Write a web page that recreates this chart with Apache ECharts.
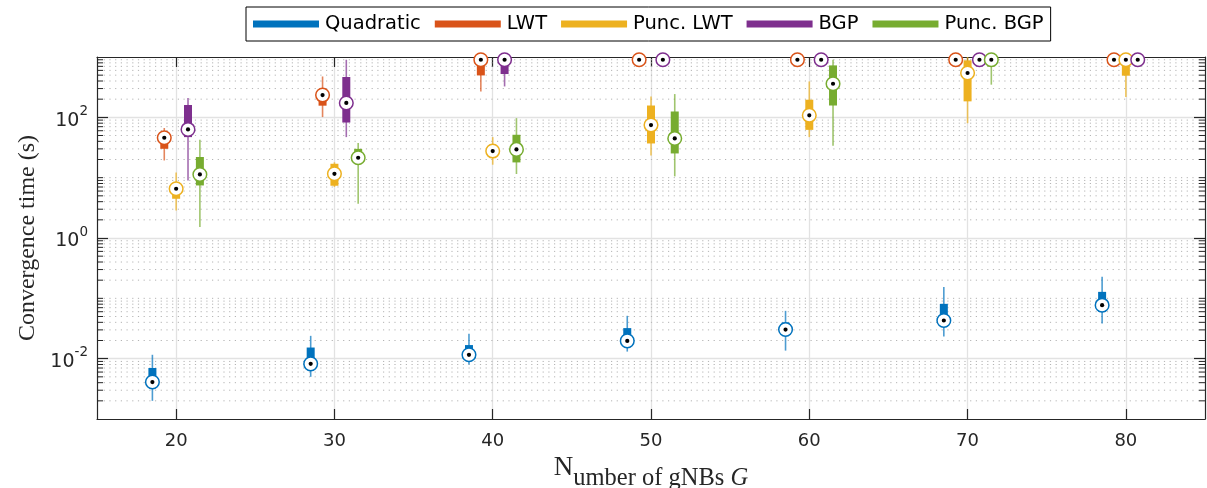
<!DOCTYPE html>
<html>
<head>
<meta charset="utf-8">
<script src="https://cdn.jsdelivr.net/npm/echarts@6/dist/echarts.min.js"></script>
<style>
  html, body { margin: 0; padding: 0; background: #ffffff; }
  #chart { width: 1207px; height: 488px; }
</style>
</head>
<body>
<div id="chart"></div>
<script>
// Number of gNBs on the x axis
const groups = [20, 30, 40, 50, 60, 70, 80];
const methods = ['Quadratic', 'LWT', 'Punc. LWT', 'BGP', 'Punc. BGP'];
const xTickValues = [20, 30, 40, 50, 60, 70, 80];
const yTickValues = [0.01, 1, 100];

// Convergence time summaries per group: [lower whisker, q1, median, q3, upper whisker]
const quadratic = [
  [0.0020, 0.0038, 0.0041, 0.0070, 0.0116],
  [0.0050, 0.0075, 0.0082, 0.0153, 0.0239],
  [0.0080, 0.0105, 0.0116, 0.0168, 0.0258],
  [0.0131, 0.0180, 0.0197, 0.0321, 0.0513],
  [0.0136, 0.0260, 0.0304, 0.0397, 0.0620],
  [0.0233, 0.0340, 0.0429, 0.0810, 0.1535],
  [0.0382, 0.0600, 0.0770, 0.1280, 0.2275]
];
const lwt = [
  [19.3, 30.1, 45.9, 50, 66.5],
  [101, 156, 234, 260, 476],
  [269, 495, 900, 1000, 1000],
  [900, 900, 900, 1000, 1000],
  [900, 900, 900, 1000, 1000],
  [900, 900, 900, 1000, 1000],
  [900, 900, 900, 1000, 1000]
];
const puncLwt = [
  [2.86, 4.47, 6.55, 7.2, 12.2],
  [7.0, 7.35, 11.6, 17, 18],
  [16.4, 22, 27.6, 35, 47],
  [23.3, 36.9, 74.5, 157, 222],
  [47, 62, 108, 196, 394],
  [80, 184, 543, 880, 1000],
  [217, 490, 900, 1000, 1000]
];
const bgp = [
  [8.97, 47, 63, 160, 209],
  [47, 82, 173, 466, 902],
  [325, 522, 900, 1000, 1000],
  [900, 900, 900, 1000, 1000],
  [900, 900, 900, 1000, 1000],
  [900, 900, 900, 1000, 1000],
  [900, 900, 900, 1000, 1000]
];
const puncBgp = [
  [1.52, 7.43, 11.3, 22, 42.5],
  [3.69, 18, 21.4, 30, 37.5],
  [11.5, 17.9, 29.4, 51.4, 97],
  [10.5, 25.2, 44.7, 125, 243],
  [33.8, 157, 360, 726, 900],
  [348, 700, 900, 1000, 1000],
  null
];

const methodData = [quadratic, lwt, puncLwt, bgp, puncBgp];
const offsets = [-1.5, -0.75, 0, 0.75, 1.5];
const colors = ['#0072BD', '#D95319', '#EDB120', '#7E2F8E', '#77AC30'];

const X_MIN = 15, X_MAX = 85, Y_MIN = 0.001, Y_MAX = 1000;

// minor log positions (2..9 of every decade, plus the unlabeled decades)
const minorY = [];
for (let k = -3; k <= 2; k++) {
  for (let m = 1; m <= 9; m++) {
    const v = m * Math.pow(10, k);
    if (m === 1 && (k === -3 || yTickValues.some(t => Math.abs(t - v) < v * 1e-9))) continue;
    minorY.push(v);
  }
}

const chart = echarts.init(document.getElementById('chart'), null, { renderer: 'canvas' });

function boxRenderer(color) {
  return function (params, api) {
    const x = api.value(0);
    const lo = api.coord([x, api.value(1)]);
    const q1 = api.coord([x, api.value(2)]);
    const md = api.coord([x, api.value(3)]);
    const q3 = api.coord([x, api.value(4)]);
    const hi = api.coord([x, api.value(5)]);
    const half = 4;
    return {
      type: 'group',
      children: [
        { type: 'line', shape: { x1: lo[0], y1: lo[1], x2: hi[0], y2: hi[1] },
          style: { stroke: color, lineWidth: 1.6, opacity: 0.7 } },
        { type: 'rect', shape: { x: q3[0] - half, y: q3[1], width: half * 2, height: Math.max(q1[1] - q3[1], 0) },
          style: { fill: color } },
        { type: 'circle', shape: { cx: md[0], cy: md[1], r: 6.8 },
          style: { fill: '#ffffff', stroke: color, lineWidth: 1.5 } },
        { type: 'circle', shape: { cx: md[0], cy: md[1], r: 2.1 },
          style: { fill: '#000000' } }
      ]
    };
  };
}

const boxSeries = methods.map((name, mi) => ({
  name: name,
  type: 'custom',
  xAxisIndex: 0,
  yAxisIndex: 0,
  z: 10 + mi,
  clip: false,
  itemStyle: { color: colors[mi] },
  renderItem: boxRenderer(colors[mi]),
  encode: { x: 0, y: [1, 2, 3, 4, 5] },
  data: groups
    .map((g, gi) => methodData[mi][gi] ? [g + offsets[mi]].concat(methodData[mi][gi]) : null)
    .filter(d => d !== null)
}));

// dotted minor grid with short inside ticks on both sides
const minorSeries = {
  name: 'minor',
  type: 'custom',
  silent: true,
  z: 1,
  clip: false,
  encode: { x: 0, y: 1 },
  renderItem: function (params, api) {
    const v = api.value(1);
    const a = api.coord([X_MIN, v]);
    const b = api.coord([X_MAX, v]);
    return {
      type: 'group',
      children: [
        { type: 'line', shape: { x1: a[0] + 1, y1: a[1], x2: b[0] - 1, y2: b[1] },
          style: { stroke: '#b4b4b4', lineWidth: 1, lineDash: [1.2, 4.5] } },
        { type: 'line', shape: { x1: a[0], y1: a[1], x2: a[0] + 6, y2: a[1] },
          style: { stroke: '#262626', lineWidth: 1 } },
        { type: 'line', shape: { x1: b[0] - 6, y1: b[1], x2: b[0], y2: b[1] },
          style: { stroke: '#262626', lineWidth: 1 } }
      ]
    };
  },
  data: minorY.map(v => [X_MIN, v])
};

const axisLineStyle = { color: '#262626', width: 1.2 };
const gridLineStyle = { color: '#e2e2e2', width: 1.3 };

chart.setOption({
  animation: false,
  backgroundColor: '#ffffff',
  color: colors,
  textStyle: { fontFamily: 'DejaVu Sans' },
  grid: { left: 97, right: 2, top: 57, bottom: 69, containLabel: false, outerBoundsMode: 'none' },
  legend: {
    data: methods,
    left: 246,
    top: 7,
    icon: 'rect',
    itemWidth: 66,
    itemHeight: 7,
    itemGap: 14,
    padding: [7, 7, 7, 7],
    borderColor: '#000000',
    borderWidth: 1,
    backgroundColor: '#ffffff',
    selectedMode: false,
    textStyle: { fontFamily: 'DejaVu Sans', fontSize: 19.5, color: '#000000', padding: [0, 0, 0, 1] }
  },
  xAxis: [
    {
      type: 'value', min: X_MIN, max: X_MAX, position: 'bottom',
      axisLine: { show: true, onZero: false, lineStyle: axisLineStyle },
      axisTick: { show: true, inside: true, length: 10, customValues: xTickValues, lineStyle: axisLineStyle },
      axisLabel: { show: true, customValues: xTickValues, margin: 13, fontSize: 18, color: '#262626', fontFamily: 'DejaVu Sans' },
      splitLine: { show: true, lineStyle: gridLineStyle },
      name: '{n|N}{s|umber of gNBs }{g|G}',
      nameLocation: 'middle',
      nameGap: 22,
      nameTextStyle: {
        fontFamily: 'Liberation Serif', color: '#262626',
        rich: {
          n: { fontFamily: 'Liberation Serif', fontSize: 27, lineHeight: 36, verticalAlign: 'top', color: '#262626' },
          s: { fontFamily: 'Liberation Serif', fontSize: 24.5, lineHeight: 36, verticalAlign: 'bottom', color: '#262626' },
          g: { fontFamily: 'Liberation Serif', fontStyle: 'italic', fontSize: 24.5, lineHeight: 36, verticalAlign: 'bottom', color: '#262626' }
        }
      }
    },
    {
      type: 'value', min: X_MIN, max: X_MAX, position: 'top',
      axisLine: { show: true, onZero: false, lineStyle: axisLineStyle },
      axisTick: { show: true, inside: true, length: 10, customValues: xTickValues, lineStyle: axisLineStyle },
      axisLabel: { show: false },
      splitLine: { show: false }
    }
  ],
  yAxis: [
    {
      type: 'log', logBase: 10, min: Y_MIN, max: Y_MAX, position: 'left',
      axisLine: { show: true, onZero: false, lineStyle: axisLineStyle },
      axisTick: { show: true, inside: true, length: 11, customValues: yTickValues, lineStyle: axisLineStyle },
      axisLabel: {
        show: true, customValues: yTickValues, margin: 9, color: '#262626',
        formatter: function (v) {
          const e = Math.round(Math.log10(v));
          return '{b|10}{sup|' + e + '}';
        },
        rich: {
          b: { fontFamily: 'DejaVu Sans', fontSize: 19, lineHeight: 26, verticalAlign: 'bottom', color: '#262626' },
          sup: { fontFamily: 'DejaVu Sans', fontSize: 13.5, lineHeight: 14, verticalAlign: 'top', color: '#262626' }
        }
      },
      splitLine: { show: true, lineStyle: gridLineStyle },
      name: 'Convergence time (s)',
      nameLocation: 'middle',
      nameGap: 57,
      nameTextStyle: { fontFamily: 'Liberation Serif', fontSize: 24, color: '#262626' }
    },
    {
      type: 'log', logBase: 10, min: Y_MIN, max: Y_MAX, position: 'right',
      axisLine: { show: true, onZero: false, lineStyle: axisLineStyle },
      axisTick: { show: true, inside: true, length: 11, customValues: yTickValues, lineStyle: axisLineStyle },
      axisLabel: { show: false },
      splitLine: { show: false }
    }
  ],
  series: [minorSeries].concat(boxSeries)
});
</script>
</body>
</html>
